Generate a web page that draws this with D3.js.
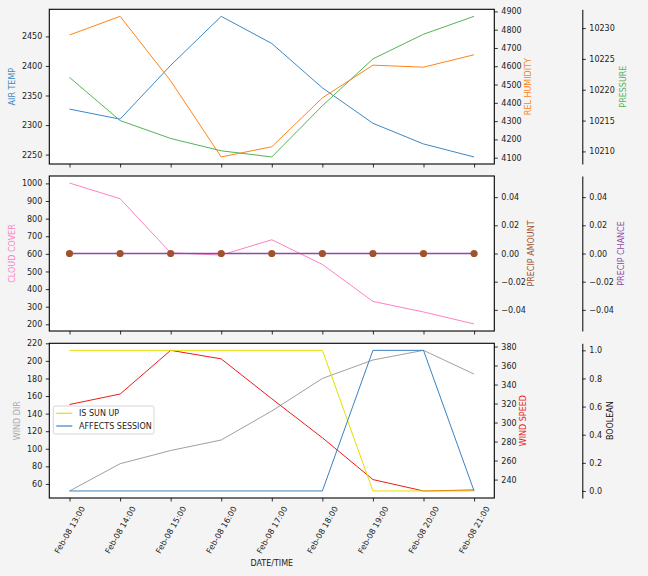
<!DOCTYPE html>
<html><head><meta charset="utf-8">
<script src="https://cdn.jsdelivr.net/npm/d3@7"></script>
<style>body{margin:0;background:#f4f4f4}svg{display:block}text{font-family:"DejaVu Sans",sans-serif}</style>
</head><body><svg id="c" width="648" height="576"></svg>
<script>
// ---- data ----
const times = ["2024-02-08T13:00","2024-02-08T14:00","2024-02-08T15:00","2024-02-08T16:00","2024-02-08T17:00","2024-02-08T18:00","2024-02-08T19:00","2024-02-08T20:00","2024-02-08T21:00"];
const airTemp = [2327, 2310, 2401, 2484, 2438, 2363, 2303, 2268, 2246];
const relHumidity = [4771, 4873, 4520, 4104, 4160, 4427, 4606, 4595, 4663];
const pressure = [10222.0, 10215.0, 10212.1, 10210.1, 10209.1, 10217.4, 10225.0, 10229.0, 10231.9];
const cloudCover = [1002, 913, 606, 593, 680, 540, 330, 270, 202];
const precipAmount = [0, 0, 0, 0, 0, 0, 0, 0, 0];
const precipChance = [0, 0, 0, 0, 0, 0, 0, 0, 0];
const windDir = [52, 83, 98, 110, 143, 180, 201, 212, 185];
const windSpeed = [319, 330, 376, 367, 325, 284, 240, 228, 229];
const isSunUp = [1, 1, 1, 1, 1, 1, 0, 0, 0];
const affectsSession = [0, 0, 0, 0, 0, 0, 1, 1, 0];
const ticksAirTemp = [2250, 2300, 2350, 2400, 2450];
const ticksHumidity = [4100, 4200, 4300, 4400, 4500, 4600, 4700, 4800, 4900];
const ticksPressure = [10210, 10215, 10220, 10225, 10230];
const ticksCloud = [200, 300, 400, 500, 600, 700, 800, 900, 1000];
const ticksPrecip = [-0.04, -0.02, 0, 0.02, 0.04];
const ticksWindDir = [60, 80, 100, 120, 140, 160, 180, 200, 220];
const ticksWindSpeed = [240, 260, 280, 300, 320, 340, 360, 380];
const ticksBool = [0, 0.2, 0.4, 0.6, 0.8, 1.0];

// ---- layout ----
const svg = d3.select("#c");
svg.append("rect").attr("width",648).attr("height",576).attr("fill","#f4f4f4");
const L = 49.3, R = 494.3, SP = 582.3, FS = 8;
const panels = [{t:9.3,b:164},{t:176,b:331},{t:343.3,b:498}];
const dates = times.map(d3.isoParse);
const hr = 3600e3;
const x = d3.scaleTime()
  .domain([new Date(+dates[0]-0.4*hr), new Date(+dates[dates.length-1]+0.4*hr)])
  .range([L, R]);
const fmtX = d3.timeFormat("%b-%d %H:%M");

function yScale(vals, p){
  let mn = d3.min(vals), mx = d3.max(vals);
  if (mn === mx){ mn -= 0.05; mx += 0.05; }
  const pad = (mx - mn) * 0.05;
  return d3.scaleLinear().domain([mn - pad, mx + pad]).range([p.b, p.t]);
}

function styleAxis(g){
  g.selectAll("path.domain").attr("stroke","#000").attr("stroke-width",1);
  g.selectAll(".tick line").attr("stroke","#000").attr("stroke-width",0.8);
  g.selectAll(".tick text").attr("font-size",FS).attr("fill","#222").attr("font-family","DejaVu Sans");
}

function frame(p){
  svg.append("rect").attr("x",L).attr("y",p.t).attr("width",R-L).attr("height",p.b-p.t)
    .attr("fill","#fff");
}
function border(p){
  svg.append("rect").attr("x",L).attr("y",p.t).attr("width",R-L).attr("height",p.b-p.t)
    .attr("fill","none").attr("stroke","#000").attr("stroke-width",1.1);
}
function line(vals, ys, color, w){
  svg.append("path").datum(vals)
    .attr("d", d3.line().x((d,i)=>x(dates[i])).y(d=>ys(d)))
    .attr("fill","none").attr("stroke",color).attr("stroke-width",w||1);
}
function leftAxis(ys, ticks, fmt){
  const g = svg.append("g").attr("transform",`translate(${L},0)`)
    .call(d3.axisLeft(ys).tickValues(ticks).tickFormat(fmt).tickSize(3.5).tickPadding(3.5));
  g.select(".domain").remove(); styleAxis(g);
}
function rightAxis(ys, ticks, fmt, xpos, spine){
  const g = svg.append("g").attr("transform",`translate(${xpos},0)`)
    .call(d3.axisRight(ys).tickValues(ticks).tickFormat(fmt).tickSize(3.5).tickSizeOuter(0).tickPadding(3.5));
  if(!spine) g.select(".domain").remove();
  styleAxis(g);
}
function xAxis(p, labels){
  const g = svg.append("g").attr("transform",`translate(0,${p.b})`)
    .call(d3.axisBottom(x).tickValues(dates).tickFormat(labels ? fmtX : "").tickSize(3.5).tickPadding(3.5));
  g.select(".domain").remove(); styleAxis(g);
  if(labels){
    g.selectAll(".tick text").each(function(){
      const t = d3.select(this);
      const len = this.getComputedTextLength();
      const a = Math.PI/3;
      const H = len*Math.sin(a) + FS*1.1*Math.cos(a);
      t.attr("text-anchor","middle").attr("dy",null).attr("y",null)
       .attr("dominant-baseline","central")
       .attr("transform",`translate(0,${7 + H/2}) rotate(-60)`);
    });
  }
}
function ylabel(text, xc, p, color){
  const yc = (p.t+p.b)/2;
  svg.append("text").text(text).attr("font-size",FS).attr("fill",color)
    .attr("text-anchor","middle").attr("dominant-baseline","central")
    .attr("transform",`translate(${xc},${yc}) rotate(-90)`);
}

const C = {blue:"#3d88c4", orange:"#ff8417", green:"#55b355", pink:"#ff80c4", brown:"#a0522d",
  purple:"#8e4aa8", gray:"#a0a0a0", red:"#ee1a1a", yellow:"#e2df00", blue2:"#3a82c2"};

// ---- Panel 1 ----
let p = panels[0];
frame(p);
const yAT = yScale(airTemp, p), yRH = yScale(relHumidity, p), yPR = yScale(pressure, p);
line(airTemp, yAT, C.blue);
line(relHumidity, yRH, C.orange);
line(pressure, yPR, C.green);
border(p);
leftAxis(yAT, ticksAirTemp, d3.format("d"));
rightAxis(yRH, ticksHumidity, d3.format("d"), R, false);
rightAxis(yPR, ticksPressure, d3.format("d"), SP, true);
xAxis(p, false);
ylabel("AIR TEMP", 12.5, p, C.blue);
ylabel("REL HUMIDITY", 528, p, C.orange);
ylabel("PRESSURE", 623, p, C.green);

// ---- Panel 2 ----
p = panels[1];
frame(p);
const yCC = yScale(cloudCover, p), yPA = yScale(precipAmount, p), yPC = yScale(precipChance, p);
line(cloudCover, yCC, C.pink);
line(precipAmount, yPA, C.brown);
line(precipChance, yPC, C.purple, 1.4);
svg.append("g").selectAll("circle").data(precipAmount).join("circle")
  .attr("cx",(d,i)=>x(dates[i])).attr("cy",d=>yPA(d)).attr("r",3.6).attr("fill",C.brown);
border(p);
leftAxis(yCC, ticksCloud, d3.format("d"));
rightAxis(yPA, ticksPrecip, d3.format(".2f"), R, false);
rightAxis(yPC, ticksPrecip, d3.format(".2f"), SP, true);
xAxis(p, false);
ylabel("CLOUD COVER", 12.5, p, C.pink);
ylabel("PRECIP AMOUNT", 531.5, p, C.brown);
ylabel("PRECIP CHANCE", 621, p, C.purple);

// ---- Panel 3 ----
p = panels[2];
frame(p);
const yWD = yScale(windDir, p), yWS = yScale(windSpeed, p), yB = yScale([0,1], p);
line(windDir, yWD, C.gray);
line(windSpeed, yWS, C.red);
line(isSunUp, yB, C.yellow);
line(affectsSession, yB, C.blue2);
border(p);
leftAxis(yWD, ticksWindDir, d3.format("d"));
rightAxis(yWS, ticksWindSpeed, d3.format("d"), R, false);
rightAxis(yB, ticksBool, d3.format(".1f"), SP, true);
xAxis(p, true);
ylabel("WIND DIR", 17, p, "#aaaaaa");
ylabel("WIND SPEED", 523, p, C.red);
ylabel("BOOLEAN", 610, p, "#111");

// legend
const lg = svg.append("g").attr("transform","translate(53.3,406)");
lg.append("rect").attr("width",100.7).attr("height",28).attr("rx",2)
  .attr("fill","#fff").attr("fill-opacity",0.85).attr("stroke","#cccccc").attr("stroke-width",0.8);
const legendItems = [{label:"IS SUN UP", color:C.yellow},{label:"AFFECTS SESSION", color:C.blue2}];
legendItems.forEach((it,i)=>{
  const yy = 7.3 + i*12.7;
  lg.append("line").attr("x1",3).attr("x2",19).attr("y1",yy).attr("y2",yy)
    .attr("stroke",it.color).attr("stroke-width",1.2);
  lg.append("text").text(it.label).attr("x",25.7).attr("y",yy).attr("dominant-baseline","central")
    .attr("font-size",FS).attr("fill","#222");
});

svg.append("text").text("DATE/TIME").attr("x",(L+R)/2).attr("y",563)
  .attr("text-anchor","middle").attr("dominant-baseline","central").attr("font-size",FS).attr("fill","#222");
</script></body></html>
